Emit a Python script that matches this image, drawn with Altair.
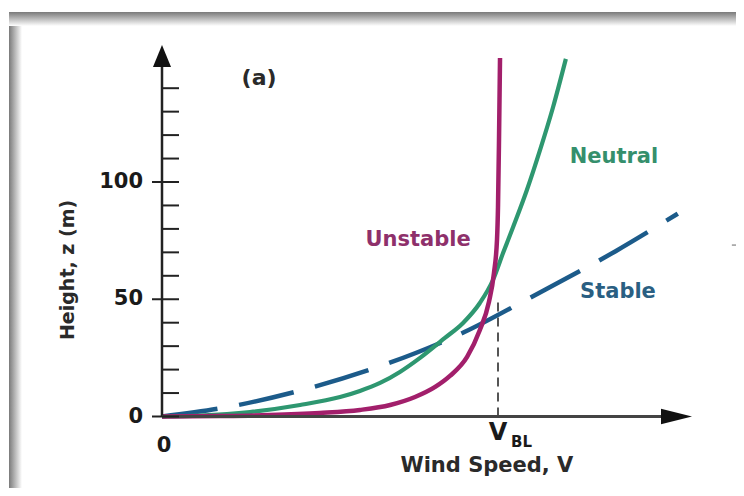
import altair as alt
import pandas as pd

# ---------------- data ----------------
unstable_v = [0, 0.173, 0.321, 0.47, 0.589, 0.679, 0.753, 0.813, 0.857, 0.908, 0.946, 0.973, 0.988, 0.997, 1.0, 1.003, 1.006]
unstable_z = [0, 0.2, 0.6, 1.5, 2.8, 4.9, 8.3, 12.6, 17.3, 25.4, 36.9, 48.8, 61.2, 75.3, 89.3, 117.9, 152.9]

neutral_v = [0, 0.113, 0.262, 0.411, 0.53, 0.589, 0.649, 0.708, 0.768, 0.842, 0.896, 0.946, 0.985, 1.015, 1.045, 1.086, 1.125, 1.164, 1.202]
neutral_z = [0, 0.4, 1.9, 4.9, 8.3, 10.9, 14.3, 19.0, 25.0, 33.5, 39.9, 48.4, 58.2, 69.7, 80.8, 96.6, 113.6, 132.0, 152.5]

stable_v = [0, 0.19, 0.41, 0.65, 0.9, 1.1, 1.35, 1.535]
stable_z = [0, 3.9, 11.0, 21.5, 36.0, 51.0, 70.5, 86.5]

major_ticks = [0, 50, 100]
major_labels = ["0", "50", "100"]
minor_ticks = [10, 20, 30, 40, 60, 70, 80, 90, 110, 120, 130, 140]

v_bl = 1.0
v_bl_top = 51

# ---------------- scales (canvas 728 x 480, at page offset 8,8) ----------------
W, H = 728, 480
PX_V = 336.0     # pixels per unit of V
PX_Z = 2.345     # pixels per metre
X0, Y0 = 154.0, 408.5  # origin inside the canvas
X_DOM = [-X0 / PX_V, (W - X0) / PX_V]
Y_DOM = [-(H - Y0) / PX_Z, Y0 / PX_Z]

xs = alt.Scale(domain=X_DOM, nice=False, zero=False)
ys = alt.Scale(domain=Y_DOM, nice=False, zero=False)


def X(f):
    return alt.X(f, type="quantitative", scale=xs, axis=None)


def Y(f):
    return alt.Y(f, type="quantitative", scale=ys, axis=None)


FONT = "DejaVu Sans"
INK = "#1a1a1a"

# ---------------- frame ----------------
one = alt.Data(values=[{}])


def grad(horizontal, c0, c1):
    return {
        "gradient": "linear",
        "x1": 0, "y1": 0,
        "x2": 1 if horizontal else 0,
        "y2": 0 if horizontal else 1,
        "stops": [{"offset": 0, "color": c0}, {"offset": 1, "color": c1}],
    }


frame_left = alt.Chart(one).mark_rect(fill=grad(True, "#7a7a7a", "#ffffff")).encode(
    x=alt.value(1), x2=alt.value(14), y=alt.value(4), y2=alt.value(H))
frame_top = alt.Chart(one).mark_rect(fill=grad(False, "#7a7a7a", "#ffffff")).encode(
    x=alt.value(1), x2=alt.value(W), y=alt.value(4), y2=alt.value(18))

# ---------------- curves ----------------
def curve_df(vs, zs):
    return pd.DataFrame({"i": list(range(len(vs))), "V": vs, "z": zs})


stable = alt.Chart(curve_df(stable_v, stable_z)).mark_line(
    color="#1c5b8a", strokeWidth=4.5, strokeDash=[56, 22], strokeCap="butt",
    interpolate="monotone").encode(x=X("V"), y=Y("z"), order="i:Q")
neutral = alt.Chart(curve_df(neutral_v, neutral_z)).mark_line(
    color="#2e9770", strokeWidth=4.2, interpolate="monotone").encode(
    x=X("V"), y=Y("z"), order="i:Q")
unstable = alt.Chart(curve_df(unstable_v, unstable_z)).mark_line(
    color="#a21f6b", strokeWidth=4.5, interpolate="monotone").encode(
    x=X("V"), y=Y("z"), order="i:Q")

vbl_line = alt.Chart(pd.DataFrame({"V": [v_bl], "z0": [0], "z1": [v_bl_top]})).mark_rule(
    color="#555555", strokeWidth=2, strokeDash=[9, 6]).encode(
    x=X("V"), y=Y("z0"), y2="z1")

# ---------------- axes ----------------
y_axis = alt.Chart(pd.DataFrame({"V": [0], "z0": [0], "z1": [150]})).mark_rule(
    color="#222222", strokeWidth=2.5).encode(x=X("V"), y=Y("z0"), y2="z1")
x_axis = alt.Chart(pd.DataFrame({"z": [0], "v0": [0], "v1": [1.49]})).mark_rule(
    color="#444444", strokeWidth=3).encode(x=X("v0"), x2="v1", y=Y("z"))

minor_df = pd.DataFrame({"z": minor_ticks, "v0": 0.0, "v1": 17 / PX_V})
major_df = pd.DataFrame({"z": major_ticks, "v0": -10 / PX_V, "v1": 17 / PX_V})
minor = alt.Chart(minor_df).mark_rule(color="#222222", strokeWidth=2).encode(
    x=X("v0"), x2="v1", y=Y("z"))
major = alt.Chart(major_df).mark_rule(color="#222222", strokeWidth=2).encode(
    x=X("v0"), x2="v1", y=Y("z"))

up_arrow = alt.Chart(pd.DataFrame({"V": [0], "z": [(Y0 - 48) / PX_Z]})).mark_point(
    shape="M0,-1L0.82,1L-0.82,1Z", size=484, filled=True, opacity=1,
    color="#111111", strokeWidth=0).encode(x=X("V"), y=Y("z"))
right_arrow = alt.Chart(pd.DataFrame({"V": [(676.5 - 162) / PX_V], "z": [0]})).mark_point(
    shape="M1,0L-1,-0.5L-1,0.5Z", size=961, filled=True, opacity=1,
    color="#111111", strokeWidth=0).encode(x=X("V"), y=Y("z"))

stray = alt.Chart(pd.DataFrame({"z": [73.1], "v0": [1.696], "v1": [1.74]})).mark_rule(
    color="#9a9a9a", strokeWidth=1.5).encode(x=X("v0"), x2="v1", y=Y("z"))

# ---------------- texts ----------------
def text_layer(rows, size, color, align="center", angle=0, weight="bold"):
    df = pd.DataFrame(rows, columns=["V", "z", "t"])
    return alt.Chart(df).mark_text(
        font=FONT, fontSize=size, fontWeight=weight, color=color, align=align,
        baseline="middle", angle=angle).encode(x=X("V"), y=Y("z"), text="t:N")


tick_labels = text_layer(
    [(-19 / PX_V, z, t) for z, t in zip(major_ticks, major_labels)], 21, INK, align="right")
origin_label = text_layer([(0.006, -12.6, "0")], 21, INK)
vbl_v = text_layer([(1.0, -7.0, "V")], 24, INK)
vbl_sub = text_layer([(1.07, -11.0, "BL")], 15, INK)
x_title = text_layer([(0.967, -21.2, "Wind Speed, V")], 21, "#2a2a2a")
y_title = text_layer([(-0.28, 62.5, "Height, z (m)")], 19, "#2a2a2a", angle=270)
panel = text_layer([(0.289, 144.3, "(a)")], 22, "#2a2a2a")
lab_unstable = text_layer([(0.762, 75.3, "Unstable")], 21, "#8e306b")
lab_neutral = text_layer([(1.345, 110.6, "Neutral")], 21, "#358f6c")
lab_stable = text_layer([(1.357, 53.1, "Stable")], 21, "#2a5f82")

chart = alt.layer(
    frame_left, frame_top,
    vbl_line, stable, neutral, unstable,
    y_axis, x_axis, minor, major, up_arrow, right_arrow, stray,
    tick_labels, origin_label, vbl_v, vbl_sub, x_title, y_title, panel,
    lab_unstable, lab_neutral, lab_stable,
).properties(
    width=W, height=H, padding=0, autosize=alt.AutoSizeParams(type="none"),
    background="#ffffff",
).configure_view(stroke=None)

chart.save("out.html", embed_options={"renderer": "svg", "actions": False})
